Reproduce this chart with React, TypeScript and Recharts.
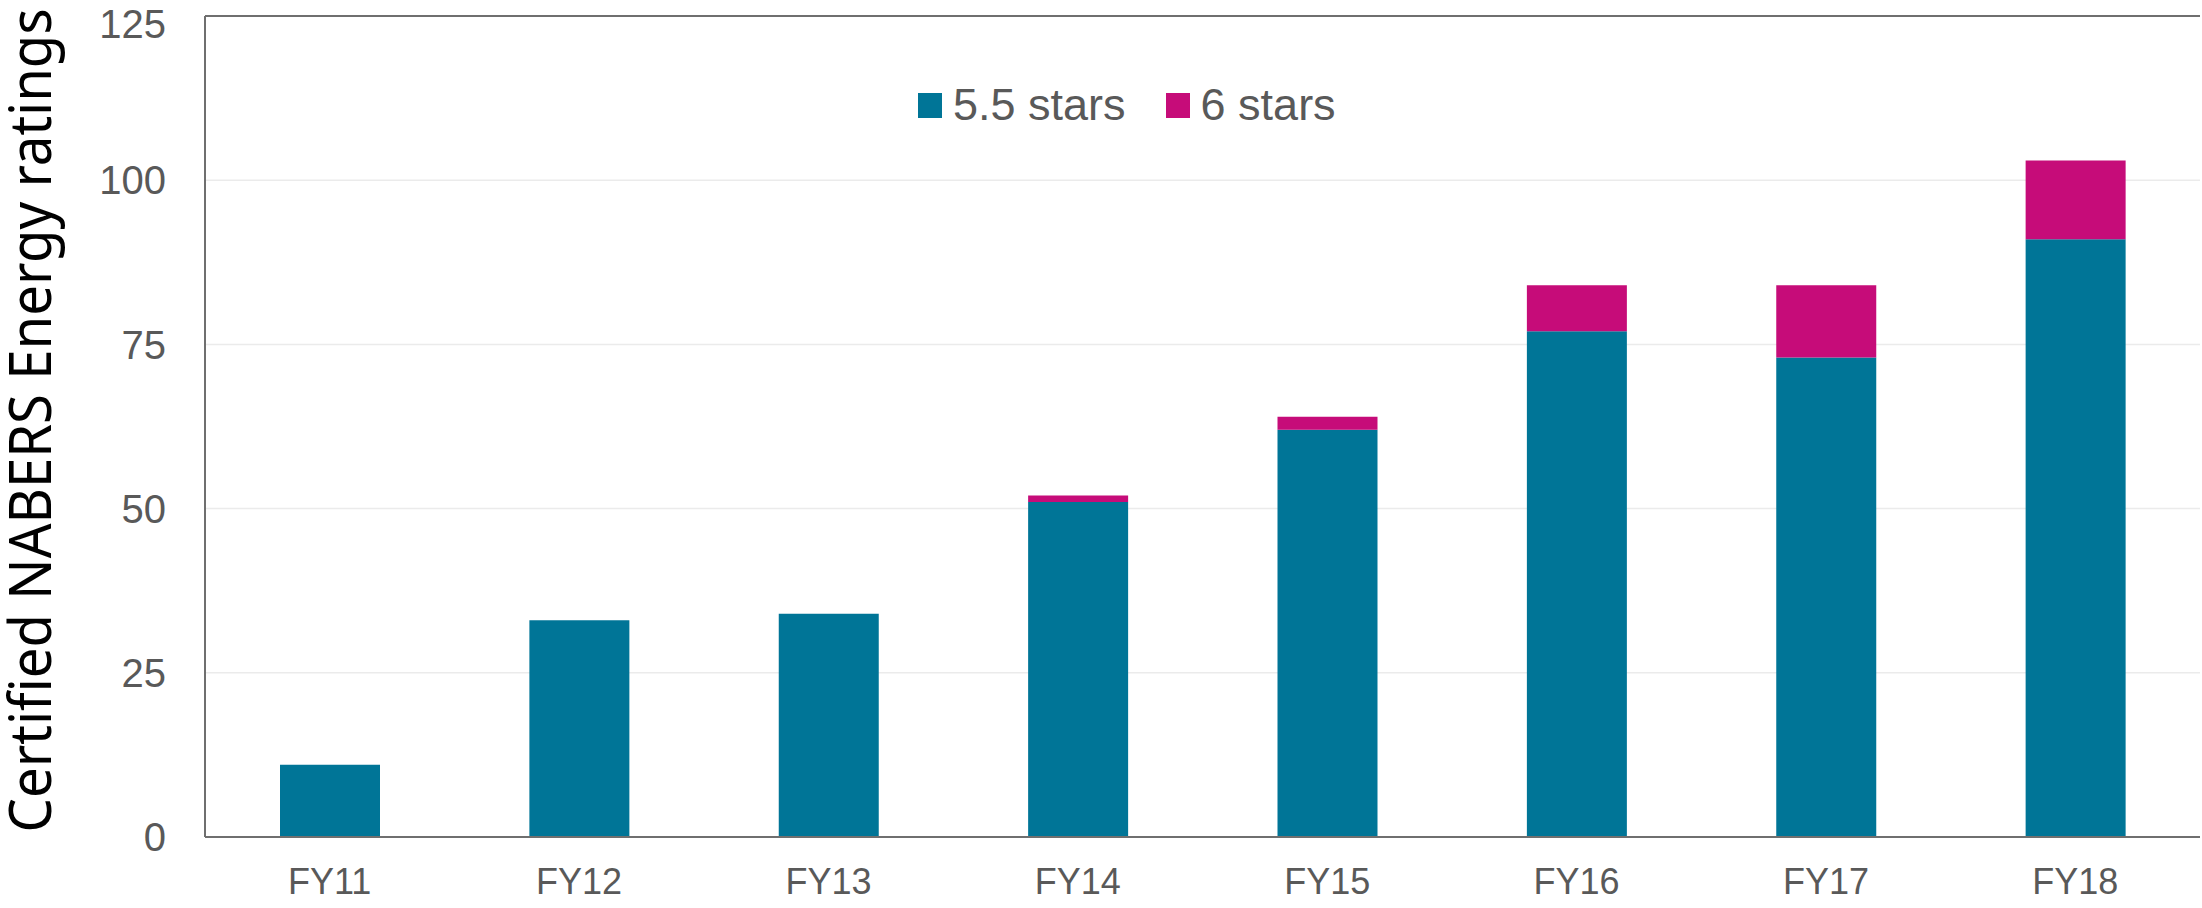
import { Bar, BarChart, CartesianGrid, Label, Legend, ReferenceLine, XAxis, YAxis } from "recharts";

const categories = ["FY11", "FY12", "FY13", "FY14", "FY15", "FY16", "FY17", "FY18"];
const fiveHalfStars = [11, 33, 34, 51, 62, 77, 73, 91];
const sixStars = [0, 0, 0, 1, 2, 7, 11, 12];
const yTicks = [0, 25, 50, 75, 100, 125];

const TEAL = "#007597";
const PINK = "#c60c79";
const AXIS = "#6f6f6f";
const TEXT = "#595959";
const FONT = "'Liberation Sans', Arial, sans-serif";

const data = categories.map((c, i) => ({ x: c, a: fiveHalfStars[i], b: sixStars[i] }));

const legendItems = [
  { name: "5.5 stars", color: TEAL },
  { name: "6 stars", color: PINK },
];

function ChartLegend() {
  return (
    <div style={{ display: "flex", alignItems: "center", height: 40, fontFamily: FONT, fontSize: 45, lineHeight: "40px", color: TEXT }}>
      {legendItems.map((it) => (
        <div key={it.name} style={{ display: "flex", alignItems: "center", marginRight: 40 }}>
          <span style={{ width: 24, height: 25, background: it.color, marginRight: 11, display: "inline-block" }} />
          <span>{it.name}</span>
        </div>
      ))}
    </div>
  );
}

function AxisTitle(props: any) {
  const vb = props.viewBox ?? { x: 0, y: 0, width: 0, height: 0 };
  const cx = 51;
  const cy = vb.y + vb.height / 2 - 6;
  return (
    <text
      x={cx}
      y={cy}
      transform={`rotate(-90 ${cx} ${cy})`}
      textAnchor="middle"
      fill="#000"
      fontFamily="'Noto Sans', 'Open Sans', sans-serif"
      fontSize={58}
      textLength={824}
      lengthAdjust="spacingAndGlyphs"
    >
      Certified NABERS Energy ratings
    </text>
  );
}

export default function App() {
  return (
    <div style={{ position: "absolute", left: 0, top: 0, background: "#fff" }}>
      <BarChart width={2202} height={908} data={data} margin={{ top: 16, right: 2, bottom: 0, left: 0 }} barSize={100}>
        <CartesianGrid stroke="#ebebeb" strokeWidth={1.5} vertical={false} />
        <XAxis
          dataKey="x"
          height={71}
          axisLine={{ stroke: AXIS, strokeWidth: 2 }}
          tickLine={false}
          tickSize={6}
          tickMargin={25}
          tick={{ fill: TEXT, fontSize: 36, fontFamily: FONT }}
        />
        <YAxis
          width={205}
          domain={[0, 125]}
          ticks={yTicks}
          axisLine={{ stroke: AXIS, strokeWidth: 2 }}
          tickLine={false}
          tickSize={6}
          tickMargin={33}
          tick={{ fill: TEXT, fontSize: 40, fontFamily: FONT }}
        >
          <Label content={<AxisTitle />} />
        </YAxis>
        <YAxis
          yAxisId="right"
          orientation="right"
          width={0}
          domain={[0, 125]}
          tick={false}
          tickLine={false}
          axisLine={{ stroke: AXIS, strokeWidth: 2 }}
        />
        <ReferenceLine y={125} stroke={AXIS} strokeWidth={2} />
        <Legend
          verticalAlign="middle"
          align="center"
          layout="horizontal"
          content={<ChartLegend />}
          wrapperStyle={{ position: "absolute", left: 918, top: 85, width: "auto" }}
        />
        <Bar dataKey="a" name="5.5 stars" stackId="s" fill={TEAL} isAnimationActive={false} />
        <Bar dataKey="b" name="6 stars" stackId="s" fill={PINK} isAnimationActive={false} />
      </BarChart>
    </div>
  );
}
